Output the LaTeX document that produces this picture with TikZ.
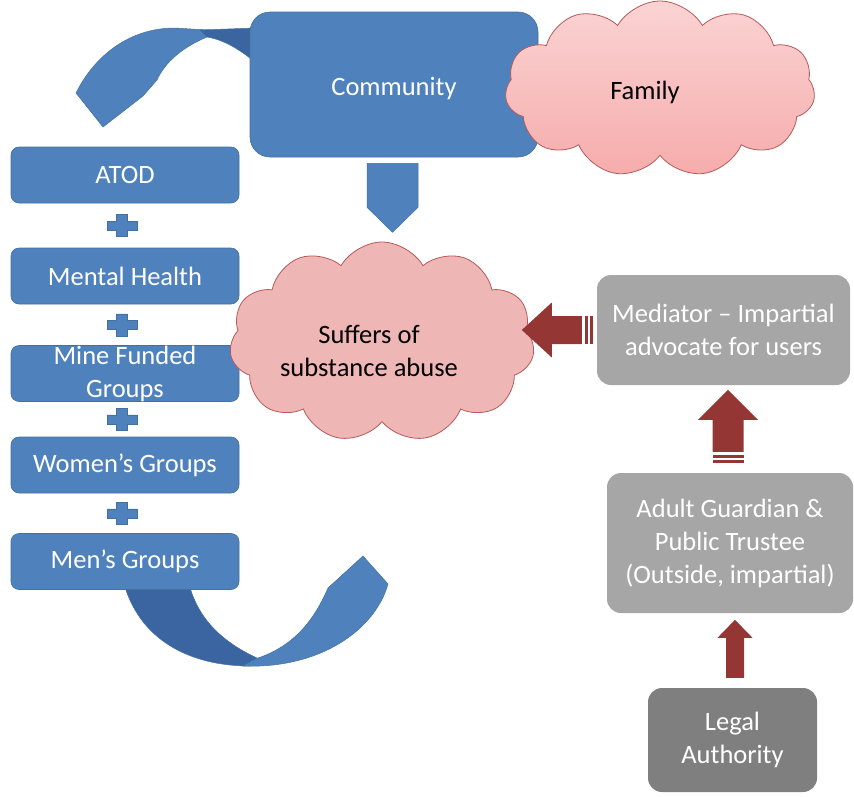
\documentclass[tikz,border=0pt]{standalone}
\usepackage{fontspec}
\setmainfont{Carlito}
\usetikzlibrary{shapes.symbols,calc}
\definecolor{boxblue}{HTML}{4F81BD}
\definecolor{backblue}{HTML}{3A65A0}
\definecolor{edgeblue}{HTML}{41719C}
\definecolor{cloudpink}{HTML}{EFB6B6}
\definecolor{cloudedge}{HTML}{B55A58}
\definecolor{famtop}{HTML}{FBD3D3}
\definecolor{fambot}{HTML}{F6ACAC}
\definecolor{arrowred}{HTML}{943634}
\definecolor{boxgray}{HTML}{A6A6A6}
\definecolor{darkgray}{HTML}{7F7F7F}
\tikzset{
  txt/.style={font=\fontsize{26.5}{33}\selectfont, align=center, inner sep=0pt},
  bluebox/.style={txt, rounded corners=8pt, fill=boxblue, draw=edgeblue, line width=0.6pt, text=white},
  groupbox/.style={bluebox, minimum width=228pt, minimum height=56pt},
  graybox/.style={txt, rounded corners=14pt, fill=boxgray, text=white},
  puff/.style={cloud, cloud puffs=11, cloud puff arc=120, draw=cloudedge, line width=0.8pt, inner sep=0pt},
  redarrow/.style={fill=arrowred},
  ribbon/.style={fill=boxblue, draw=edgeblue, line width=0.5pt},
  ribbonback/.style={fill=backblue, draw=edgeblue, line width=0.5pt},
}

\begin{document}
\begin{tikzpicture}[x=1pt, y=-1pt]
  \useasboundingbox (0,0) rectangle (854,796);

  % ribbons, behind the boxes
  \path[ribbon] (76,93) .. controls (95,55) and (130,28) .. (175,28) -- (207,30)
    -- (207,37) .. controls (183,47) and (165,62) .. (157,80) -- (143,96) -- (103,127) -- cycle;
  \path[ribbonback] (200,30) -- (255,28) -- (255,62) .. controls (240,50) and (225,40) .. (207,37) -- cycle;
  \path[ribbonback] (123,580) .. controls (138,640) and (190,666) .. (250,666) -- (257,658)
    .. controls (218,640) and (196,615) .. (188,580) -- cycle;
  \path[ribbon] (243,666) .. controls (320,669) and (375,630) .. (388,584) -- (363,556) -- (328,588)
    .. controls (312,625) and (290,648) .. (255,659) -- cycle;

  \node[bluebox, minimum width=288pt, minimum height=145pt, rounded corners=20pt] (comm) at (394,84.5)
    {\raisebox{-5pt}[12pt][0pt]{Community}};
  \node[puff, top color=famtop, bottom color=fambot, minimum width=310pt, minimum height=176pt,
        label={[txt, xshift=-15pt, yshift=-3pt]center:Family}] (fam) at (660,89) {};

  % the groups on the left
  \node[groupbox] (atod) at (125,175) {ATOD};
  \node[groupbox] (mental) at (125,276) {Mental Health};
  \node[groupbox] (mine) at (125,373.5) {Mine Funded\\Groups};
  \node[groupbox] (women) at (125,465) {Women’s Groups};
  \node[groupbox] (men) at (125,561.5) {Men’s Groups};

  \foreach \a/\b in {atod/mental, mental/mine, mine/women, women/men}
    \path[ribbon] ($(\a.south)!0.5!(\b.north)+(-3,0)$) ++(-15,-4.5) -- ++(9.5,0) -- ++(0,-6.5) -- ++(11,0)
      -- ++(0,6.5) -- ++(9.5,0) -- ++(0,9) -- ++(-9.5,0) -- ++(0,6.5) -- ++(-11,0) -- ++(0,-6.5) -- ++(-9.5,0) -- cycle;

  % down arrow from the community
  \path[ribbon] ($(comm.south)+(-27,6)$) -- ++(51,0) -- ++(0,44) -- ++(-25.5,25) -- ++(-25.5,-25) -- cycle;

  \node[puff, fill=cloudpink, minimum width=305pt, minimum height=200pt,
        label={[txt, xshift=-13pt, yshift=-9pt]center:Suffers of\\substance abuse}] (suffer) at (382,342) {};

  % right column
  \node[graybox, minimum width=253pt, minimum height=110pt] (med) at (723.5,330) {Mediator – Impartial\\advocate for users};
  \node[graybox, minimum width=246pt, minimum height=140pt] (adult) at (730,543) {Adult Guardian \&\\Public Trustee\\(Outside, impartial)};
  \node[graybox, fill=darkgray, minimum width=169pt, minimum height=104pt] (legal) at (732.5,740) {Legal\\Authority};

  \path[redarrow] ($(med.west)+(-75,0)$) -- ++(30,-27.5) -- ++(0,13.5) -- ++(30,0) -- ++(0,28)
    -- ++(-30,0) -- ++(0,13.5) -- cycle;
  \path[redarrow] ($(med.west)+(-12,-14)$) rectangle ++(3,28);
  \path[redarrow] ($(med.west)+(-7,-14)$) rectangle ++(3,28);

  \path[redarrow] ($(adult.north)+(-2,-83)$) -- ++(30,30) -- ++(-14.5,0) -- ++(0,32) -- ++(-31,0)
    -- ++(0,-32) -- ++(-14.5,0) -- cycle;
  \path[redarrow] ($(adult.north)+(-17.5,-18)$) rectangle ++(31,3);
  \path[redarrow] ($(adult.north)+(-17.5,-13)$) rectangle ++(31,3);

  \path[redarrow] ($(legal.north)+(2.5,-68)$) -- ++(17.5,18) -- ++(-8.5,0) -- ++(0,40) -- ++(-18,0)
    -- ++(0,-40) -- ++(-8.5,0) -- cycle;
\end{tikzpicture}
\end{document}
